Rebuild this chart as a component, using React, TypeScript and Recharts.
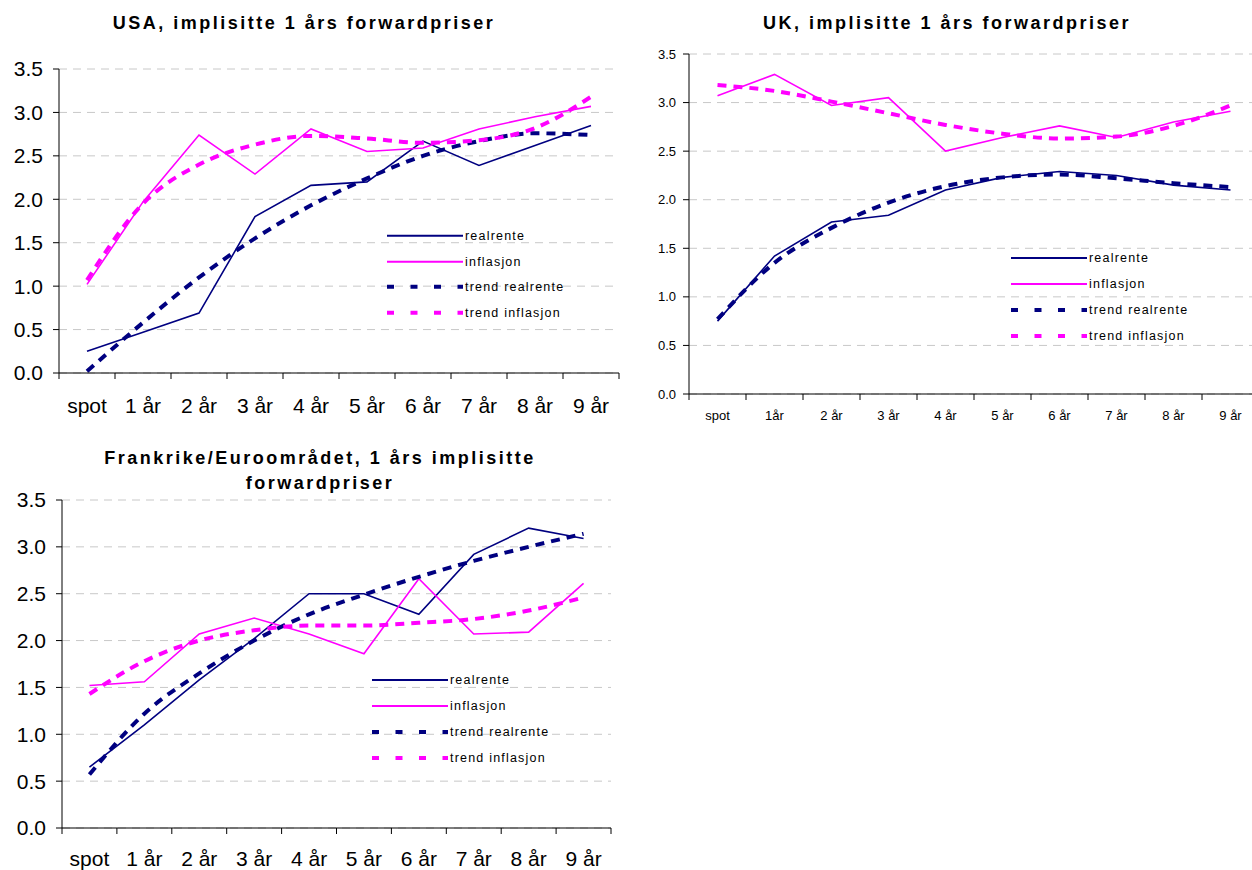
import React from "react";
import { CartesianGrid, Legend, Line, LineChart, XAxis, YAxis } from "recharts";

const categories = ["spot", "1 år", "2 år", "3 år", "4 år", "5 år", "6 år", "7 år", "8 år", "9 år"];
const ukCategories = ["spot", "1år", "2 år", "3 år", "4 år", "5 år", "6 år", "7 år", "8 år", "9 år"];

const usaReal = [0.25, 0.47, 0.69, 1.8, 2.16, 2.2, 2.67, 2.39, 2.62, 2.85];
const usaInfl = [1.02, 1.97, 2.74, 2.29, 2.81, 2.55, 2.59, 2.81, 2.95, 3.07];
const usaTrendReal = [0.02, 0.58, 1.1, 1.55, 1.93, 2.24, 2.5, 2.67, 2.76, 2.74];
const usaTrendInfl = [1.07, 1.95, 2.4, 2.63, 2.73, 2.7, 2.65, 2.68, 2.82, 3.18];

const ukReal = [0.75, 1.42, 1.77, 1.84, 2.1, 2.23, 2.29, 2.25, 2.15, 2.1];
const ukInfl = [3.07, 3.29, 2.97, 3.05, 2.5, 2.64, 2.76, 2.64, 2.8, 2.91];
const ukTrendReal = [0.77, 1.35, 1.71, 1.97, 2.14, 2.23, 2.26, 2.22, 2.17, 2.13];
const ukTrendInfl = [3.18, 3.12, 3.01, 2.89, 2.77, 2.68, 2.63, 2.65, 2.76, 2.97];

const frReal = [0.65, 1.1, 1.58, 2.02, 2.5, 2.5, 2.28, 2.92, 3.2, 3.09];
const frInfl = [1.52, 1.56, 2.07, 2.24, 2.07, 1.86, 2.66, 2.07, 2.09, 2.61];
const frTrendReal = [0.57, 1.22, 1.65, 2.0, 2.28, 2.49, 2.68, 2.85, 3.0, 3.14];
const frTrendInfl = [1.43, 1.78, 2.0, 2.11, 2.16, 2.16, 2.19, 2.23, 2.32, 2.46];

const yTicks = [0, 0.5, 1, 1.5, 2, 2.5, 3, 3.5];

const NAVY = "#000080";
const MAGENTA = "#FF00FF";
const FONT = "'Liberation Sans', Arial, sans-serif";

// legend order as in the original
const legendItems = [
  { name: "realrente", color: NAVY, dash: false },
  { name: "inflasjon", color: MAGENTA, dash: false },
  { name: "trend realrente", color: NAVY, dash: true },
  { name: "trend inflasjon", color: MAGENTA, dash: true },
];

function buildRows(cats: string[], real: number[], infl: number[], tr: number[], ti: number[]) {
  return cats.map((c, i) => ({ cat: c, real: real[i], infl: infl[i], trendReal: tr[i], trendInfl: ti[i] }));
}

function makeXTick(band: number, fontSize: number, dy: number, count: number) {
  return (props: any) => {
    const { x, y, payload, index } = props;
    return (
      <g>
        <line x1={x - band / 2} x2={x - band / 2} y1={y} y2={y + 6} stroke="#000" />
        {index === count - 1 && <line x1={x + band / 2} x2={x + band / 2} y1={y} y2={y + 6} stroke="#000" />}
        <text x={x} y={y + dy} textAnchor="middle" dominantBaseline="central" fontSize={fontSize} fill="#000" fontFamily={FONT}>
          {payload.value}
        </text>
      </g>
    );
  };
}

function LegendBox({ rowH }: { rowH: number }) {
  return (
    <div style={{ fontFamily: FONT }}>
      {legendItems.map((s) => (
        <div key={s.name} style={{ display: "flex", alignItems: "center", height: rowH }}>
          <svg width={78} height={rowH}>
            <line
              x1={0}
              x2={76}
              y1={rowH / 2}
              y2={rowH / 2}
              stroke={s.color}
              strokeWidth={s.dash ? 4 : 2}
              strokeDasharray={s.dash ? "7 16.5" : undefined}
            />
          </svg>
          <span style={{ fontSize: 12.5, letterSpacing: 1.2, color: "#000", whiteSpace: "nowrap" }}>{s.name}</span>
        </div>
      ))}
    </div>
  );
}

type PanelProps = {
  rows: any[];
  width: number;
  height: number;
  margin: { top: number; right: number; left: number; bottom: number };
  yWidth: number;
  xHeight: number;
  band: number;
  yFont: number;
  xFont: number;
  xDy: number;
  tickMargin: number;
  legendLeft: number;
  legendTop: number;
  rowH: number;
};

function Panel(p: PanelProps) {
  return (
    <LineChart width={p.width} height={p.height} data={p.rows} margin={p.margin}>
      <CartesianGrid vertical={false} stroke="#c8c8c8" strokeDasharray="8 6" />
      <XAxis
        dataKey="cat"
        scale="band"
        height={p.xHeight}
        axisLine={{ stroke: "#000" }}
        tickLine={false}
        tickSize={0}
        tickMargin={0}
        interval={0}
        tick={makeXTick(p.band, p.xFont, p.xDy, p.rows.length)}
      />
      <YAxis
        width={p.yWidth}
        domain={[0, 3.5]}
        ticks={yTicks}
        interval={0}
        axisLine={{ stroke: "#000" }}
        tickLine={{ stroke: "#000" }}
        tickSize={6}
        tickMargin={p.tickMargin}
        tickFormatter={(v: number) => v.toFixed(1)}
        tick={{ fill: "#000", fontSize: p.yFont, fontFamily: FONT }}
      />
      <Legend
        layout="vertical"
        align="center"
        verticalAlign="middle"
        wrapperStyle={{ left: p.legendLeft, top: p.legendTop, width: 220 }}
        content={() => <LegendBox rowH={p.rowH} />}
      />
      <Line name="realrente" dataKey="real" stroke={NAVY} strokeWidth={1.6} dot={false} isAnimationActive={false} />
      <Line name="inflasjon" dataKey="infl" stroke={MAGENTA} strokeWidth={1.6} dot={false} isAnimationActive={false} />
      <Line
        name="trend realrente"
        type="monotone"
        dataKey="trendReal"
        stroke={NAVY}
        strokeWidth={4}
        strokeDasharray="9 7"
        dot={false}
        isAnimationActive={false}
      />
      <Line
        name="trend inflasjon"
        type="monotone"
        dataKey="trendInfl"
        stroke={MAGENTA}
        strokeWidth={4}
        strokeDasharray="9 7"
        dot={false}
        isAnimationActive={false}
      />
    </LineChart>
  );
}

const titleStyle: React.CSSProperties = {
  position: "absolute",
  fontFamily: FONT,
  fontWeight: "bold",
  fontSize: 18,
  letterSpacing: 2.5,
  lineHeight: "25px",
  textAlign: "center",
  color: "#000",
  whiteSpace: "nowrap",
};

export default function App() {
  const usaRows = buildRows(categories, usaReal, usaInfl, usaTrendReal, usaTrendInfl);
  const ukRows = buildRows(ukCategories, ukReal, ukInfl, ukTrendReal, ukTrendInfl);
  const frRows = buildRows(categories, frReal, frInfl, frTrendReal, frTrendInfl);

  return (
    <div style={{ position: "absolute", left: 0, top: 0, width: 1252, height: 870, overflow: "hidden", background: "#fff" }}>
      <div style={{ ...titleStyle, left: 4, width: 600, top: 11 }}>USA, implisitte 1 års forwardpriser</div>
      <div style={{ position: "absolute", left: 0, top: 0 }}>
        <Panel
          rows={usaRows}
          width={625}
          height={420}
          margin={{ top: 69, right: 6, left: 0, bottom: 6 }}
          yWidth={59}
          xHeight={41}
          band={56}
          yFont={21}
          xFont={21}
          xDy={32}
          tickMargin={10}
          legendLeft={387}
          legendTop={223}
          rowH={25.7}
        />
      </div>

      <div style={{ ...titleStyle, left: 647, width: 600, top: 11 }}>UK, implisitte 1 års forwardpriser</div>
      <div style={{ position: "absolute", left: 630, top: 0 }}>
        <Panel
          rows={ukRows}
          width={640}
          height={430}
          margin={{ top: 54, right: 11, left: 0, bottom: 6 }}
          yWidth={59}
          xHeight={30}
          band={57}
          yFont={13}
          xFont={13}
          xDy={21}
          tickMargin={7}
          legendLeft={381}
          legendTop={245}
          rowH={26}
        />
      </div>

      <div style={{ ...titleStyle, left: 20, width: 600, top: 446 }}>
        Frankrike/Euroområdet, 1 års implisitte
        <br />
        forwardpriser
      </div>
      <div style={{ position: "absolute", left: 0, top: 430 }}>
        <Panel
          rows={frRows}
          width={620}
          height={440}
          margin={{ top: 70, right: 9, left: 0, bottom: 6 }}
          yWidth={62}
          xHeight={36}
          band={54.9}
          yFont={21}
          xFont={21}
          xDy={30}
          tickMargin={10}
          legendLeft={372}
          legendTop={237}
          rowH={26}
        />
      </div>
    </div>
  );
}
